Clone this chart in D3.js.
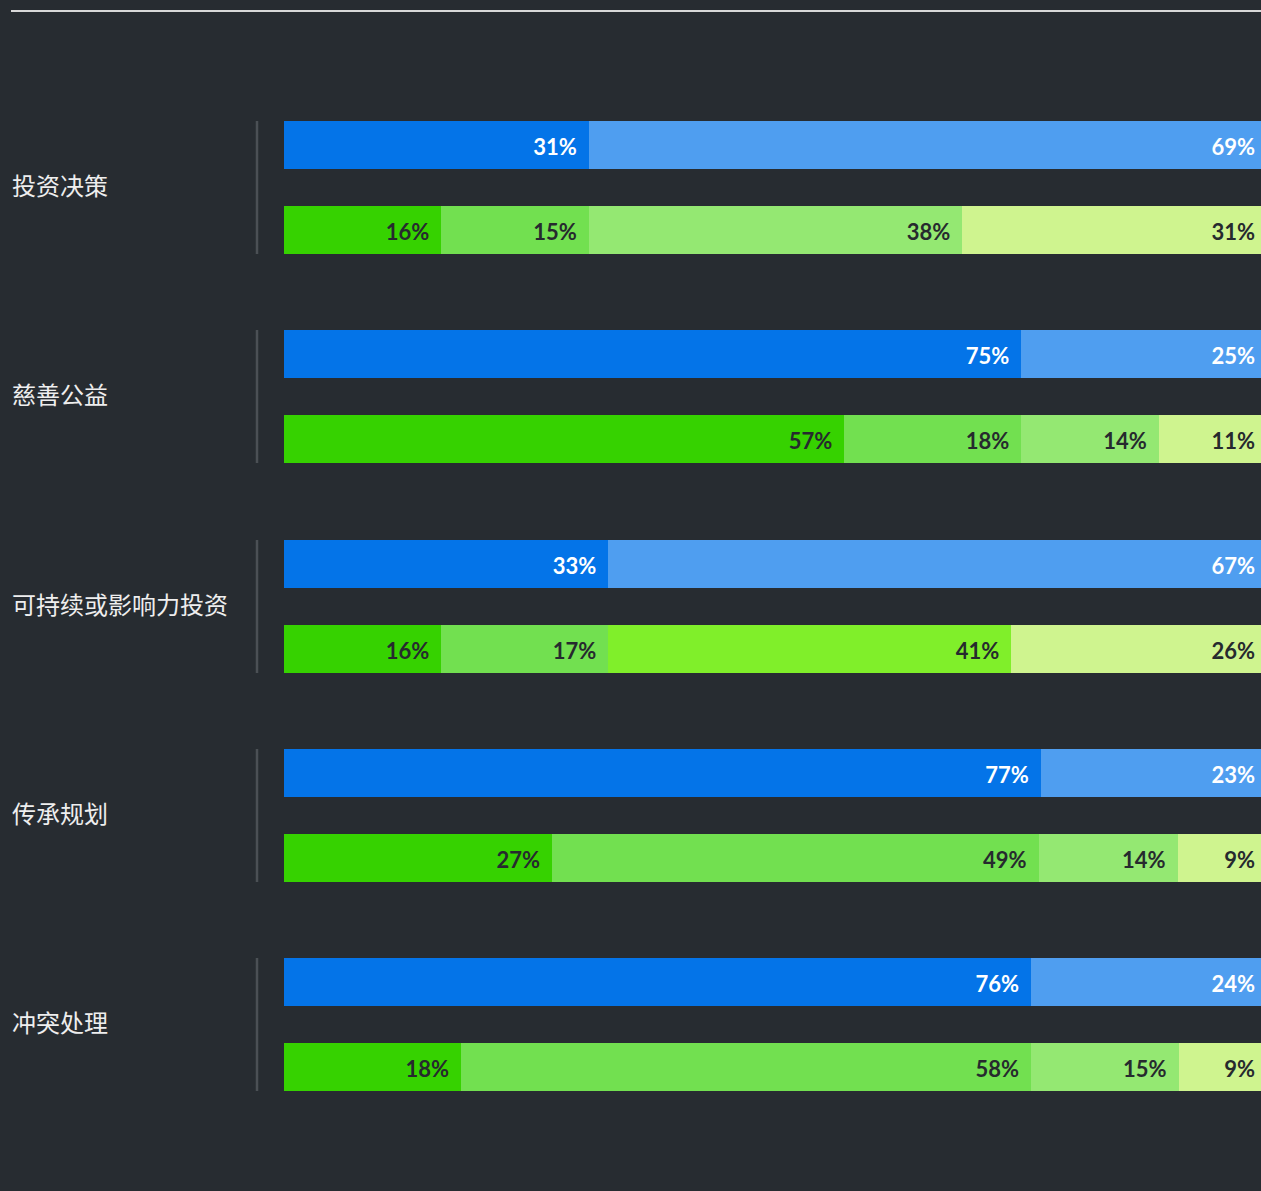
<!DOCTYPE html>
<html>
<head>
<meta charset="utf-8">
<script src="https://cdn.jsdelivr.net/npm/d3@7"></script>
<style>
  html, body { margin: 0; padding: 0; background: #272c31; overflow: hidden; }
  svg { display: block; }
</style>
</head>
<body>
<svg id="chart"></svg>
<script>
// Categories and the two stacked rows for each
const categories = ["投资决策", "慈善公益", "可持续或影响力投资", "传承规划", "冲突处理"];
const blueRows = [
  [31, 69],
  [75, 25],
  [33, 67],
  [77, 23],
  [76, 24]
];
const greenRows = [
  [16, 15, 38, 31],
  [57, 18, 14, 11],
  [16, 17, 41, 26],
  [27, 49, 14, 9],
  [18, 58, 15, 9]
];

// Palettes
const blueColors = ["#0474e8", "#4f9ef0"];
const greenColors = ["#36d200", "#72e050", "#94e872", "#cff48f"];
const greenColorsAlt = ["#36d200", "#72e050", "#80ef2a", "#cff48f"];

const W = 1261, H = 1191;
const svg = d3.select("#chart").attr("width", W).attr("height", H);

// Top rule
svg.append("line")
  .attr("x1", 11).attr("x2", W).attr("y1", 11).attr("y2", 11)
  .attr("stroke", "#d8d8d8").attr("stroke-width", 2);

const barH = 48, rowGap = 85;
const y = d3.scaleBand().domain(categories).range([121, 121 + 209.25 * 5]).paddingInner(0).paddingOuter(0);
const x = d3.scaleLinear().domain([0, 1]).range([284, 1267]);

function stack(vals) {
  const total = d3.sum(vals);
  let acc = 0;
  return vals.map((v, i) => {
    const s = acc / total; acc += v;
    return { v, i, x0: s, x1: acc / total };
  });
}

categories.forEach((cat, ci) => {
  const g = svg.append("g").attr("transform", `translate(0,${Math.round(y(cat))})`);

  // Category label
  g.append("text")
    .attr("x", 12).attr("y", (barH + rowGap) / 2 - 1)
    .attr("dy", "0.35em")
    .attr("fill", "#eeeeee")
    .attr("font-family", "'Noto Sans CJK SC', 'Noto Sans', sans-serif")
    .attr("font-size", 24)
    .text(cat);

  // Divider
  g.append("line")
    .attr("x1", 257).attr("x2", 257).attr("y1", 0).attr("y2", barH + rowGap)
    .attr("stroke", "#4b5055").attr("stroke-width", 2.5);

  const rows = [
    { data: stack(blueRows[ci]), colors: blueColors, text: "#ffffff", y0: 0 },
    { data: stack(greenRows[ci]), colors: ci === 2 ? greenColorsAlt : greenColors, text: "#262a2e", y0: rowGap }
  ];

  rows.forEach(r => {
    const rg = g.append("g").attr("transform", `translate(0,${r.y0})`);
    rg.selectAll("rect").data(r.data).join("rect")
      .attr("x", d => Math.round(x(d.x0)))
      .attr("width", d => Math.round(x(d.x1)) - Math.round(x(d.x0)))
      .attr("y", 0).attr("height", barH)
      .attr("shape-rendering", "crispEdges")
      .attr("fill", d => r.colors[d.i]);
    rg.selectAll("text").data(r.data).join("text")
      .attr("x", d => x(d.x1) - 12)
      .attr("y", barH / 2 + 2)
      .attr("dy", "0.35em")
      .attr("text-anchor", "end")
      .attr("fill", r.text)
      .attr("font-family", "Lato, 'Open Sans', sans-serif")
      .attr("font-weight", 700)
      .attr("font-size", 22)
      .text(d => d.v + "%");
  });
});
</script>
</body>
</html>
